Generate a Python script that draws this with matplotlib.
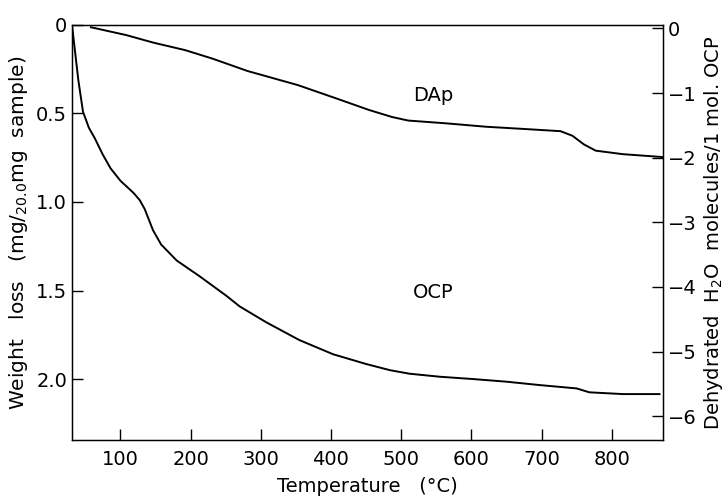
import numpy as np
import matplotlib
matplotlib.use("Agg")
import matplotlib.pyplot as plt

# OCP curve (temperature in C, weight loss in mg)
ocp_t = [31, 34.5, 40, 46.7, 55, 63.5, 74.6, 86, 100, 119, 127.6, 134.6, 146.5, 158, 180,
         213, 251, 270, 308, 355, 403, 450, 484, 512, 555, 602, 650, 697, 750, 768, 816, 868]
ocp_w = [0.0, 0.12, 0.31, 0.49, 0.58, 0.64, 0.73, 0.81, 0.88, 0.95, 0.99, 1.04, 1.16, 1.24, 1.33,
         1.42, 1.53, 1.59, 1.68, 1.78, 1.86, 1.915, 1.95, 1.97, 1.987, 2.0, 2.015, 2.034, 2.053, 2.075, 2.085, 2.085]

# DAp curve
dap_t = [58, 108, 147, 192, 231, 281, 353, 409, 454, 487, 510, 565, 621, 677, 727, 744, 760, 777, 816, 872]
dap_w = [0.013, 0.057, 0.10, 0.142, 0.19, 0.26, 0.34, 0.417, 0.48, 0.52, 0.54, 0.556, 0.575, 0.588, 0.60,
         0.626, 0.674, 0.71, 0.73, 0.746]

x_ticks = [100, 200, 300, 400, 500, 600, 700, 800]
left_ticks = [0, 0.5, 1.0, 1.5, 2.0]
left_labels = ["0", "0.5", "1.0", "1.5", "2.0"]
right_ticks = [0, -1, -2, -3, -4, -5, -6]

# mg of water per molecule per mol OCP, and offset of right zero
mg_per_mol = 0.365
zero_off = 0.02

plt.rcParams['font.family'] = ['DejaVu Sans']
fig = plt.figure(figsize=(7.27, 4.99), dpi=100)
ax = fig.add_axes([0.099, 0.118, 0.813, 0.832])

ax.plot(ocp_t, ocp_w, color="black", lw=1.4)
ax.plot(dap_t, dap_w, color="black", lw=1.4)

ax.set_xlim(31, 873)
ax.set_ylim(2.345, 0)
ax.set_xticks(x_ticks)
ax.set_yticks(left_ticks)
ax.set_yticklabels(left_labels)
ax.tick_params(direction="in", length=8, width=1, labelsize=14)
ax.tick_params(axis="x", pad=7)
for s in ax.spines.values():
    s.set_linewidth(1)

ax.set_xlabel("Temperature   (°C)", fontsize=14, labelpad=6)
ax.set_ylabel(r"Weight   loss   (mg/$_{20.0}$mg  sample)", fontsize=14.5, labelpad=4)

ax.text(545, 0.40, "DAp", fontsize=14, ha="center", va="center")
ax.text(545, 1.51, "OCP", fontsize=14, ha="center", va="center")

# right axis: dehydrated H2O molecules
ax2 = ax.twinx()
lo, hi = ax.get_ylim()
ax2.set_ylim(-(lo - zero_off) / mg_per_mol, -(hi - zero_off) / mg_per_mol)
ax2.set_yticks(right_ticks)
ax2.tick_params(direction="in", length=8, width=1, labelsize=14)
ax2.set_ylabel(r"Dehydrated  H$_2$O  molecules/1 mol. OCP", fontsize=14, labelpad=4)

fig.savefig("out.png", dpi=100)
